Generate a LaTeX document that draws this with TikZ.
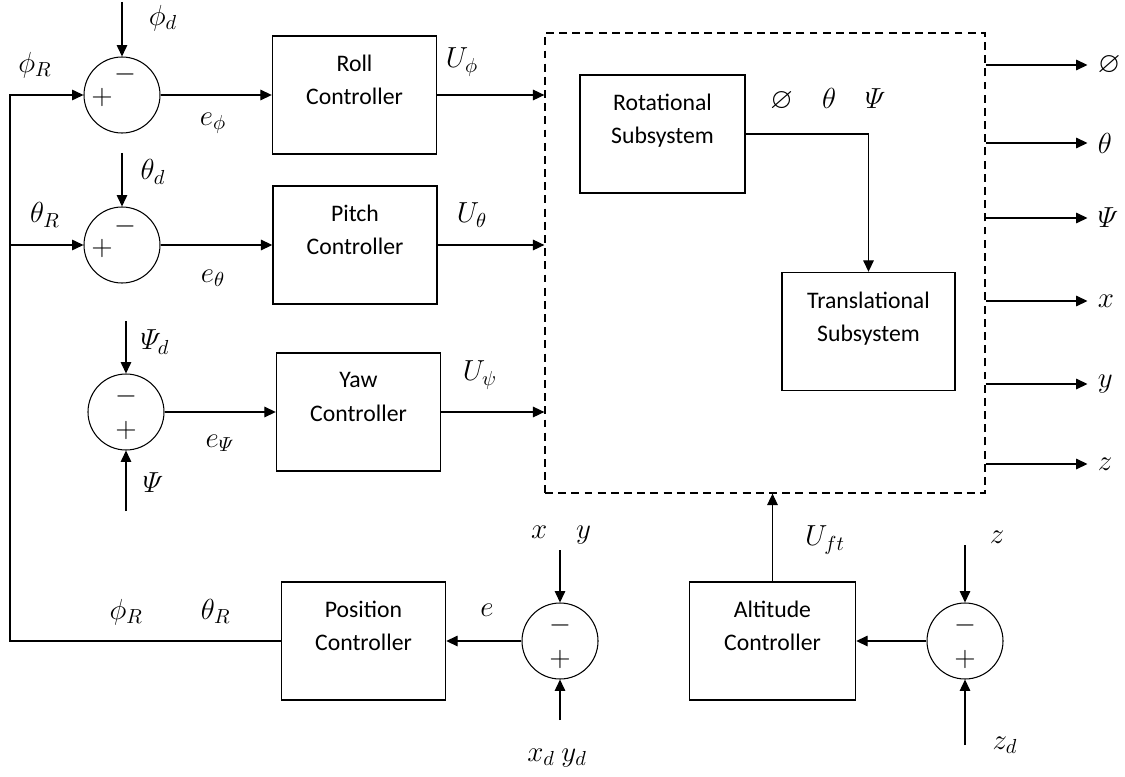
\RequirePackage{fix-cm}
\documentclass[tikz,border=0pt]{standalone}
\usepackage{amsmath}
\usepackage{amssymb}
\usepackage{fontspec}
\setmainfont{Carlito}
\usetikzlibrary{
	arrows.meta,
	positioning,
	calc
}

\begin{document}
\begin{tikzpicture}[
			font=\fontsize{13.5}{19}\selectfont,
			blk/.style={draw, line width=0.8pt, minimum width=3.28cm, minimum height=2.36cm, align=center, text depth=0.6cm},
			sum/.style={draw, circle, line width=0.6pt, minimum size=1.52cm, inner sep=0pt},
			sgn/.style={inner sep=0pt, font=\fontsize{16}{16}\selectfont},
			lbl/.style={inner sep=0pt, font=\fontsize{16.5}{19}\selectfont},
			>={Triangle[length=6.5pt, width=6pt]},
			fl/.style={->, line width=0.7pt},
			ln/.style={line width=0.7pt}
		]
		\useasboundingbox (0,0) rectangle (22.5,15.52);

		% summing junctions
		\node[sum] (s1) at (2.44,13.62) {};
		\node[sum] (s2) at (2.44,10.62) {};
		\node[sum] (s3) at (2.52,7.28) {};
		\node[sum] (s4) at (11.2,2.7) {};
		\node[sum] (s5) at (19.3,2.7) {};

		\node[sgn] at ($(s1)+(-0.4,-0.04)$) {$+$};
		\node[sgn] at ($(s1)+(0.06,0.42)$) {$-$};
		\node[sgn] at ($(s2)+(-0.4,-0.06)$) {$+$};
		\node[sgn] at ($(s2)+(0.06,0.38)$) {$-$};
		\foreach \s in {s3,s4,s5} {
			\node[sgn] at ($(\s)+(0,0.32)$) {$-$};
			\node[sgn] at ($(\s)+(0,-0.36)$) {$+$};
		}

		% controllers
		\node[blk] (roll) at (7.09,13.62) {Roll\\ Controller};
		\node[blk] (pitch) at (7.1,10.62) {Pitch\\ Controller};
		\node[blk] (yaw) at (7.17,7.28) {Yaw\\ Controller};
		\node[blk] (pos) at (7.27,2.7) {Position\\ Controller};
		\node[blk, minimum width=3.32cm] (alt) at (15.45,2.7) {Altitude\\ Controller};

		% quadrotor dynamics
		\node[draw, dashed, dash pattern=on 4.5pt off 3pt, line width=0.7pt, minimum width=8.8cm, minimum height=9.2cm] (plant) at (15.3,10.26) {};
		\node[blk, minimum width=3.3cm] (rot) at (13.25,12.84) {Rotational\\ Subsystem};
		\node[blk, minimum width=3.46cm] (trans) at (17.37,8.89) {Translational\\ Subsystem};

		% reference inputs
		\coordinate (in1) at (2.44,15.48);
		\coordinate (in2) at (2.44,12.46);
		\coordinate (in3) at (2.52,9.1);
		\coordinate (in3b) at (2.52,5.3);
		\coordinate (in4) at (11.2,4.52);
		\coordinate (in4b) at (11.2,1.12);
		\coordinate (in5) at (19.3,4.62);
		\coordinate (in5b) at (19.3,0.62);
		\coordinate (fb) at (0.2,2.7);

		\draw[fl] (in1) -- (s1);
		\draw[fl] (in2) -- (s2);
		\draw[fl] (in3) -- (s3);
		\draw[fl] (in3b) -- (s3);
		\draw[fl] (in4) -- (s4);
		\draw[fl] (in4b) -- (s4);
		\draw[fl] (in5) -- (s5);
		\draw[fl] (in5b) -- (s5);

		\draw[fl] (s1) -- (roll);
		\draw[fl] (s2) -- (pitch);
		\draw[fl] (s3) -- (yaw);
		\draw[fl] (s4) -- (pos);
		\draw[fl] (s5) -- (alt);

		\draw[fl] (roll.east) -- (roll.east -| plant.west);
		\draw[fl] (pitch.east) -- (pitch.east -| plant.west);
		\draw[fl] (yaw.east) -- (yaw.east -| plant.west);
		\draw[fl] (alt.north) -- (alt.north |- plant.south);
		\draw[fl] (rot.east) -| (trans.north);

		% attitude references fed back from the position loop
		\draw[fl] (pos.west) -- (fb) |- (s1);
		\draw[fl] (fb |- s2) -- (s2);

		% states
		\foreach \yy/\lab [count=\i] in {14.22/\varnothing, 12.66/\theta, 11.16/\varPsi, 9.5/x, 7.84/y, 6.24/z} {
			\coordinate (out\i) at (21.75,\yy);
			\draw[fl] (plant.east |- out\i) -- (out\i);
			\node[lbl, right=0.2cm of out\i] {$\lab$};
		}

		% signal names
		\node[lbl] at (3.26,15.16) {$\phi_d$};
		\node[lbl] at (0.7,14.22) {$\phi_R$};
		\node[lbl] at (4.26,13.06) {$e_\phi$};
		\node[lbl] at (9.24,14.28) {$U_\phi$};
		\node[lbl] at (3.06,12.08) {$\theta_d$};
		\node[lbl] at (0.9,11.22) {$\theta_R$};
		\node[lbl] at (4.26,9.96) {$e_\theta$};
		\node[lbl] at (9.44,11.22) {$U_\theta$};
		\node[lbl] at (3.1,8.68) {$\varPsi_d$};
		\node[lbl] at (3.06,5.86) {$\varPsi$};
		\node[lbl] at (4.4,6.66) {$e_\varPsi$};
		\node[lbl] at (9.6,8.02) {$U_\psi$};
		\node[lbl] at (16.56,13.52) {$\varnothing\quad\theta\quad\varPsi$};
		\node[lbl] at (3.4,3.28) {$\phi_R\qquad\theta_R$};
		\node[lbl] at (9.74,3.32) {$e$};
		\node[lbl] at (11.22,4.82) {$x\quad y$};
		\node[lbl] at (11.14,0.36) {$x_d\ y_d$};
		\node[lbl] at (16.5,4.72) {$U_{ft}$};
		\node[lbl] at (19.94,4.78) {$z$};
		\node[lbl] at (20.1,0.62) {$z_d$};
	\end{tikzpicture}
\end{document}
